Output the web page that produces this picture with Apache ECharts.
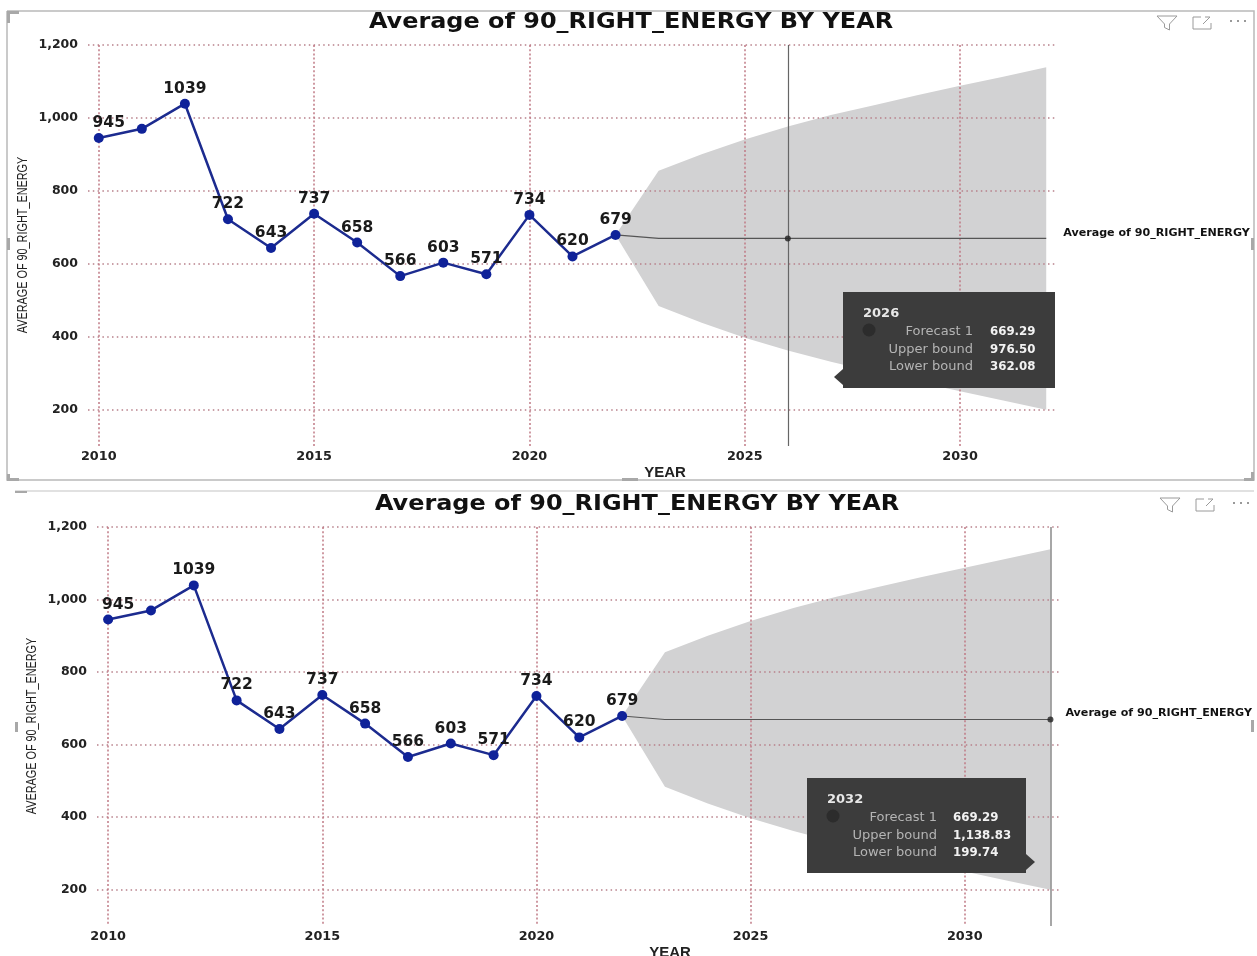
<!DOCTYPE html>
<html>
<head>
<meta charset="utf-8">
<style>html,body{margin:0;padding:0;background:#fff}#c{width:1257px;height:956px}</style>
<script src="https://cdn.jsdelivr.net/npm/echarts@6/dist/echarts.min.js"></script>
</head>
<body>
<div id="c"></div>
<script>
const titleText = 'Average of 90_RIGHT_ENERGY BY YEAR';
const yAxisName = 'AVERAGE OF 90_RIGHT_ENERGY';
const xAxisName = 'YEAR';
const seriesName = 'Average of 90_RIGHT_ENERGY';

const years = [2010,2011,2012,2013,2014,2015,2016,2017,2018,2019,2020,2021,2022];
const actual = [945,970,1039,722,643,737,658,566,603,571,734,620,679];
const forecastYears = [2022,2023,2024,2025,2026,2027,2028,2029,2030,2031,2032];
const forecast = [679,669.29,669.29,669.29,669.29,669.29,669.29,669.29,669.29,669.29,669.29];
const upperBound = [679,855,900,941,976.5,1008,1035,1062,1088,1113,1138.83];
const lowerBound = [679,484,438,397,362.08,331,303,276,250,225,199.74];
const yTicks = [200,400,600,800,1000,1200];
const xTicks = [2010,2015,2020,2025,2030];
const tipRows = ['Forecast 1','Upper bound','Lower bound'];
const tipA = {year:2026, values:['669.29','976.50','362.08']};
const tipB = {year:2032, values:['669.29','1,138.83','199.74']};

const panels = [
  {left:88, top:45, width:969, height:401, xMin:2009.75, xMax:2032.25, titleX:631, titleY:23,  yNameX:23, yearX:665, tip:tipA, crossColor:'#666', crossW:1.2, endOff:[9,-5]},
  {left:97, top:527,width:962, height:399, xMin:2009.74, xMax:2032.2,  titleX:637, titleY:505, yNameX:32, yearX:670, tip:tipB, crossColor:'#8a8a8a', crossW:1.5, endOff:[7,-6]}
];

const font = 'DejaVu Sans';
const grid=[],xAxis=[],yAxis=[],series=[];
const g=[];

panels.forEach((p,i)=>{
  grid.push({left:p.left, top:p.top, width:p.width, height:p.height, outerBoundsMode:'none'});
  g.push({type:'text',silent:true,x:p.titleX,y:p.titleY,scaleX:1.14,
    style:{text:titleText,align:'center',verticalAlign:'middle',font:'bold 21px "DejaVu Sans"',fill:'#111'}});
  g.push({type:'text',silent:true,x:p.yNameX,y:p.top+p.height/2-0.5,rotation:Math.PI/2,scaleX:0.7,
    style:{text:yAxisName,align:'center',verticalAlign:'middle',font:'15.5px "Liberation Sans"',fill:'#222'}});
  xAxis.push({type:'value', gridIndex:i, min:p.xMin, max:p.xMax, z:3,
    name:xAxisName, nameLocation:'middle', nameGap:19,
    nameTextStyle:{fontFamily:'Liberation Sans', fontWeight:'bold', fontSize:15, color:'#222',
      padding:[0,0,0,(p.yearX-(p.left+p.width/2))*2]},
    axisLine:{show:false},
    axisTick:{show:false, customValues:xTicks},
    axisLabel:{customValues:xTicks, formatter:v=>String(v), margin:4,
      fontFamily:font, fontWeight:'bold', fontSize:12.8, color:'#222'},
    splitLine:{show:true, lineStyle:{type:[2,2.2], width:1.5, color:'#c07a85'}}});
  yAxis.push({type:'value', gridIndex:i, min:100, max:1200, z:3,
    axisLine:{show:false},
    axisTick:{show:false, customValues:yTicks},
    axisLabel:{customValues:yTicks, margin:10, fontFamily:font, fontWeight:'bold', fontSize:12.5, color:'#222',
      formatter:v=>v.toLocaleString('en-US')},
    splitLine:{show:true, lineStyle:{type:[1.5,3.3], width:1.5, color:'#b8808a'}}});

  series.push({type:'custom', xAxisIndex:i, yAxisIndex:i, z:2, silent:true, clip:false,
    data:forecastYears.map((y,k)=>[y,upperBound[k],lowerBound[k]]),
    encode:{x:0,y:[1,2]},
    renderItem:(params,api)=>{
      if(params.dataIndex!==0) return null;
      const top=forecastYears.map((y,k)=>api.coord([y,upperBound[k]]));
      const bot=forecastYears.map((y,k)=>api.coord([y,lowerBound[k]])).reverse();
      return {type:'polygon',shape:{points:top.concat(bot)},style:{fill:'#d2d2d3'}};
    }});
  series.push({type:'line', name:'Forecast 1', xAxisIndex:i, yAxisIndex:i, z:4, symbol:'none', silent:true,
    lineStyle:{color:'#555', width:1.2},
    endLabel:{show:true, formatter:seriesName, offset:p.endOff, align:'left',
      fontFamily:font, fontWeight:'bold', fontSize:11.1, color:'#111'},
    data:forecastYears.map((y,k)=>[y,forecast[k]]),
    markLine:{silent:true, symbol:'none', animation:false, label:{show:false},
      lineStyle:{type:'solid', color:p.crossColor, width:p.crossW},
      data:[{xAxis:p.tip.year}]}});
  series.push({type:'scatter', xAxisIndex:i, yAxisIndex:i, z:6, symbolSize:6, silent:true,
    itemStyle:{color:'#222'},
    data:[[p.tip.year, forecast[forecastYears.indexOf(p.tip.year)]]]});
  series.push({type:'line', name:seriesName, xAxisIndex:i, yAxisIndex:i, z:5, symbol:'circle', symbolSize:10,
    lineStyle:{color:'#1c2b8f', width:2.5}, itemStyle:{color:'#0f2299'},
    label:{show:true, position:'top', distance:2, fontFamily:font, fontWeight:'bold', fontSize:15.5, color:'#1a1a1a',
      formatter:o=>o.value[2]?'':String(o.value[1])},
    data:years.map((y,k)=>{
      const d={value:[y,actual[k],y===2011?1:0]};
      if(k===0) d.label={offset:[10,0]};
      return d;
    })});
});

// visual frame
const frameColor='#b9b9b9';
g.push({type:'polyline',silent:true,shape:{points:[[7,11],[1254,11],[1254,480],[7,480],[7,11]]},style:{stroke:frameColor,fill:null,lineWidth:1.5}});
g.push({type:'polyline',silent:true,shape:{points:[[15,491],[1254,491]]},style:{stroke:'#c4c4c4',fill:null,lineWidth:1.2}});
[[7,11,12,3],[7,11,3,12],[7,474,3,7],[7,478,12,3],[622,478,16,3],[1244,478,10,3],[1251,472,3,8],[7,238,3,12],[1251,238,3,12],[1251,720,3,12],[15,722,3,10],[15,491,12,2]].forEach(r=>{
  g.push({type:'rect',silent:true,shape:{x:r[0],y:r[1],width:r[2],height:r[3]},style:{fill:'#a8a8a8'}});
});

// header icons
function icons(x,y){
  g.push({type:'polyline',silent:true,shape:{points:[[x,y],[x+20,y],[x+12.5,y+8],[x+12.5,y+14],[x+7.5,y+11.5],[x+7.5,y+8],[x,y]]},style:{stroke:'#9a9a9a',fill:null,lineWidth:1}});
  g.push({type:'polyline',silent:true,shape:{points:[[x+44,y+1],[x+36,y+1],[x+36,y+13],[x+54,y+13],[x+54,y+7]]},style:{stroke:'#9a9a9a',fill:null,lineWidth:1}});
  g.push({type:'polyline',silent:true,shape:{points:[[x+46,y+8],[x+53,y+1],[x+48,y+1]]},style:{stroke:'#9a9a9a',fill:null,lineWidth:1}});
  [0,7,14].forEach(d=>g.push({type:'circle',silent:true,shape:{cx:x+74+d,cy:y+5,r:1},style:{fill:'#777'}}));
}
icons(1157,16); icons(1160,498);

// tooltip panels
function tip(b){
  const rows=b.rows;
  g.push({type:'rect',silent:true,z:20,shape:{x:b.x,y:b.y,width:b.w,height:b.h},style:{fill:'#3c3c3c'}});
  g.push({type:'polygon',silent:true,z:20,shape:{points:b.arrow},style:{fill:'#3c3c3c'}});
  g.push({type:'circle',silent:true,z:21,shape:{cx:b.dotX,cy:rows[0]-1,r:6.5},style:{fill:'#2c2c2c'}});
  g.push({type:'text',silent:true,z:21,style:{x:b.titleX,y:b.titleY+1,text:String(b.t.year),fill:'#e8e8e8',verticalAlign:'middle',font:'bold 13px "DejaVu Sans"'}});
  tipRows.forEach((s,k)=>{
    g.push({type:'text',silent:true,z:21,style:{x:b.labelX,y:rows[k]+1,text:s,fill:'#b4b4b4',align:'right',verticalAlign:'middle',font:'13px "DejaVu Sans"'}});
    g.push({type:'text',silent:true,z:21,style:{x:b.valX,y:rows[k]+1,text:b.t.values[k],fill:'#f2f2f2',verticalAlign:'middle',font:'bold 11.8px "DejaVu Sans"'}});
  });
}
tip({t:tipA,x:843,y:292,w:212,h:96,titleX:863,titleY:313,rows:[331,349,366],labelX:973,valX:990,dotX:869,arrow:[[843,369],[834,377],[843,385]]});
tip({t:tipB,x:807,y:778,w:219,h:95,titleX:827,titleY:799,rows:[817,835,852],labelX:937,valX:953,dotX:833,arrow:[[1026,854],[1035,862],[1026,870]]});

const chart=echarts.init(document.getElementById('c'),null,{renderer:'canvas'});
chart.setOption({animation:false,backgroundColor:'#fff',grid,xAxis,yAxis,series,graphic:{elements:g},legend:{show:false},tooltip:{show:false}});
</script>
</body>
</html>
